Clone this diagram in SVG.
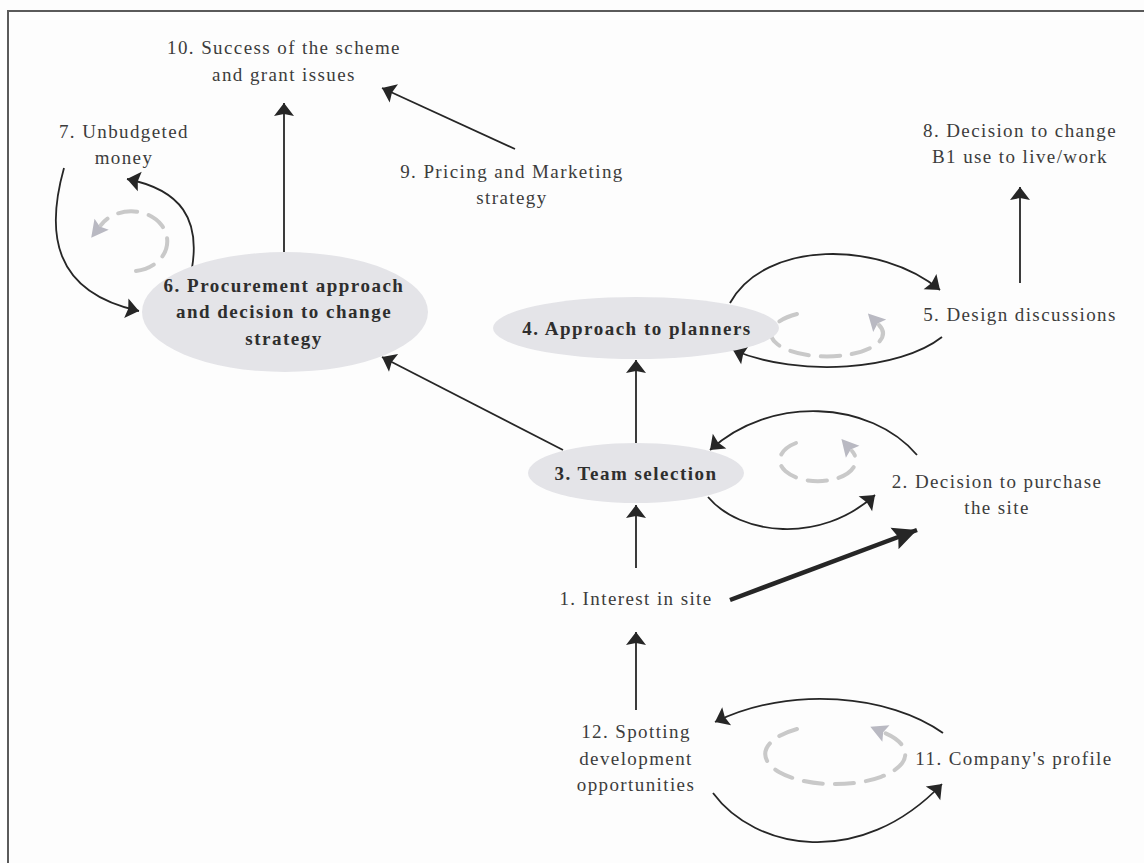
<svg xmlns="http://www.w3.org/2000/svg" width="1144" height="863" viewBox="0 0 1144 863">
  <style>
    .lbl { font-family: "Liberation Serif", "Times New Roman", serif; font-size: 19px; letter-spacing: 1.4px; fill: #3c3c3c; text-anchor: middle; }
    .bold { font-weight: bold; fill: #2e2e2e; letter-spacing: 1.5px; }
    .node-fill { fill: #e4e4e8; }
    .link { fill: none; stroke: #262626; stroke-width: 1.8; marker-end: url(#head); }
    .thick { fill: none; stroke: #262626; stroke-width: 4.5; marker-end: url(#bighead); }
    .loop { fill: none; stroke: #c9c9c9; stroke-width: 4; stroke-dasharray: 19 12; stroke-linecap: round; marker-end: url(#grayhead); }
  </style>
  <defs>
    <marker id="head" viewBox="-14 -11 15 22" refX="0" refY="0" markerWidth="15" markerHeight="22" markerUnits="userSpaceOnUse" orient="auto">
      <path d="M0,0 L-13,-10 L-11,0 L-13,10 Z" fill="#262626"/>
    </marker>
    <marker id="bighead" viewBox="-24 -12 25 24" refX="0" refY="0" markerWidth="25" markerHeight="24" markerUnits="userSpaceOnUse" orient="auto">
      <path d="M0,0 L-24,-11.5 L-20,0 L-24,11.5 Z" fill="#262626"/>
    </marker>
    <marker id="grayhead" viewBox="-2 -10 20 20" refX="0" refY="0" markerWidth="20" markerHeight="20" markerUnits="userSpaceOnUse" orient="auto">
      <path d="M16,0 L-1,-9 L2,0 L-1,9 Z" fill="#b9b9c2"/>
    </marker>
  </defs>

  <rect x="0" y="0" width="1144" height="863" fill="#fdfdfd"/>
  <!-- frame -->
  <path d="M8,863 L8,11 L1144,11" fill="none" stroke="#5a5a5a" stroke-width="2"/>

  <!-- connectors -->
  <g id="connectors">
    <line class="link" x1="284" y1="253" x2="284" y2="103"/>
    <line class="link" x1="515" y1="149" x2="382" y2="88"/>
    <line class="link" x1="1020" y1="283" x2="1020" y2="187"/>
    <line class="link" x1="636" y1="443" x2="636" y2="360"/>
    <line class="link" x1="563" y1="450" x2="382" y2="357"/>
    <line class="link" x1="636" y1="568" x2="636" y2="505"/>
    <line class="link" x1="636" y1="710" x2="636" y2="632"/>
    <line class="thick" x1="730" y1="600" x2="917" y2="530"/>

    <path class="link" d="M64,168 C46,232 52,292 139,311"/>
    <path class="link" d="M192,268 C200,220 182,190 127,179"/>
    <path class="link" d="M730,303 C765,240 880,240 940,290"/>
    <path class="link" d="M942,337 C900,370 800,378 733,350"/>
    <path class="link" d="M917,455 C870,400 770,395 710,450"/>
    <path class="link" d="M708,497 C740,535 820,545 875,495"/>
    <path class="link" d="M943,733 C890,695 790,685 715,722"/>
    <path class="link" d="M713,793 C755,850 860,870 942,784"/>

    <!-- dashed feedback loops -->
    <path class="loop" d="M136,271 A36,30 0 1 0 101,225"/>
    <path class="loop" d="M797,314 A56,23 0 1 0 879,325"/>
    <path class="loop" d="M796,443 A38,21 0 1 0 852,451"/>
    <path class="loop" d="M797,729 A70,30 0 1 0 885,733"/>
  </g>

  <g id="n10">
    <text class="lbl" x="284" y="54">10. Success of the scheme</text>
    <text class="lbl" x="284" y="81">and grant issues</text>
  </g>
  <g id="n7">
    <text class="lbl" x="124" y="138">7. Unbudgeted</text>
    <text class="lbl" x="124" y="164">money</text>
  </g>
  <g id="n9">
    <text class="lbl" x="512" y="178">9. Pricing and Marketing</text>
    <text class="lbl" x="512" y="204">strategy</text>
  </g>
  <g id="n8">
    <text class="lbl" x="1020" y="137">8. Decision to change</text>
    <text class="lbl" x="1020" y="163">B1 use to live/work</text>
  </g>
  <g id="n6">
    <ellipse class="node-fill" cx="285" cy="312" rx="143" ry="60"/>
    <text class="lbl bold" x="284" y="292">6. Procurement approach</text>
    <text class="lbl bold" x="284" y="318">and decision to change</text>
    <text class="lbl bold" x="284" y="345">strategy</text>
  </g>
  <g id="n4">
    <ellipse class="node-fill" cx="636" cy="328" rx="143" ry="31"/>
    <text class="lbl bold" x="637" y="335">4. Approach to planners</text>
  </g>
  <g id="n5">
    <text class="lbl" x="1020" y="321">5. Design discussions</text>
  </g>
  <g id="n3">
    <ellipse class="node-fill" cx="636" cy="473" rx="108" ry="30"/>
    <text class="lbl bold" x="636" y="480">3. Team selection</text>
  </g>
  <g id="n2">
    <text class="lbl" x="997" y="488">2. Decision to purchase</text>
    <text class="lbl" x="997" y="514">the site</text>
  </g>
  <g id="n1">
    <text class="lbl" x="636" y="605">1. Interest in site</text>
  </g>
  <g id="n12">
    <text class="lbl" x="636" y="738">12.  Spotting</text>
    <text class="lbl" x="636" y="765">development</text>
    <text class="lbl" x="636" y="791">opportunities</text>
  </g>
  <g id="n11">
    <text class="lbl" x="1014" y="765">11. Company's profile</text>
  </g>
</svg>
